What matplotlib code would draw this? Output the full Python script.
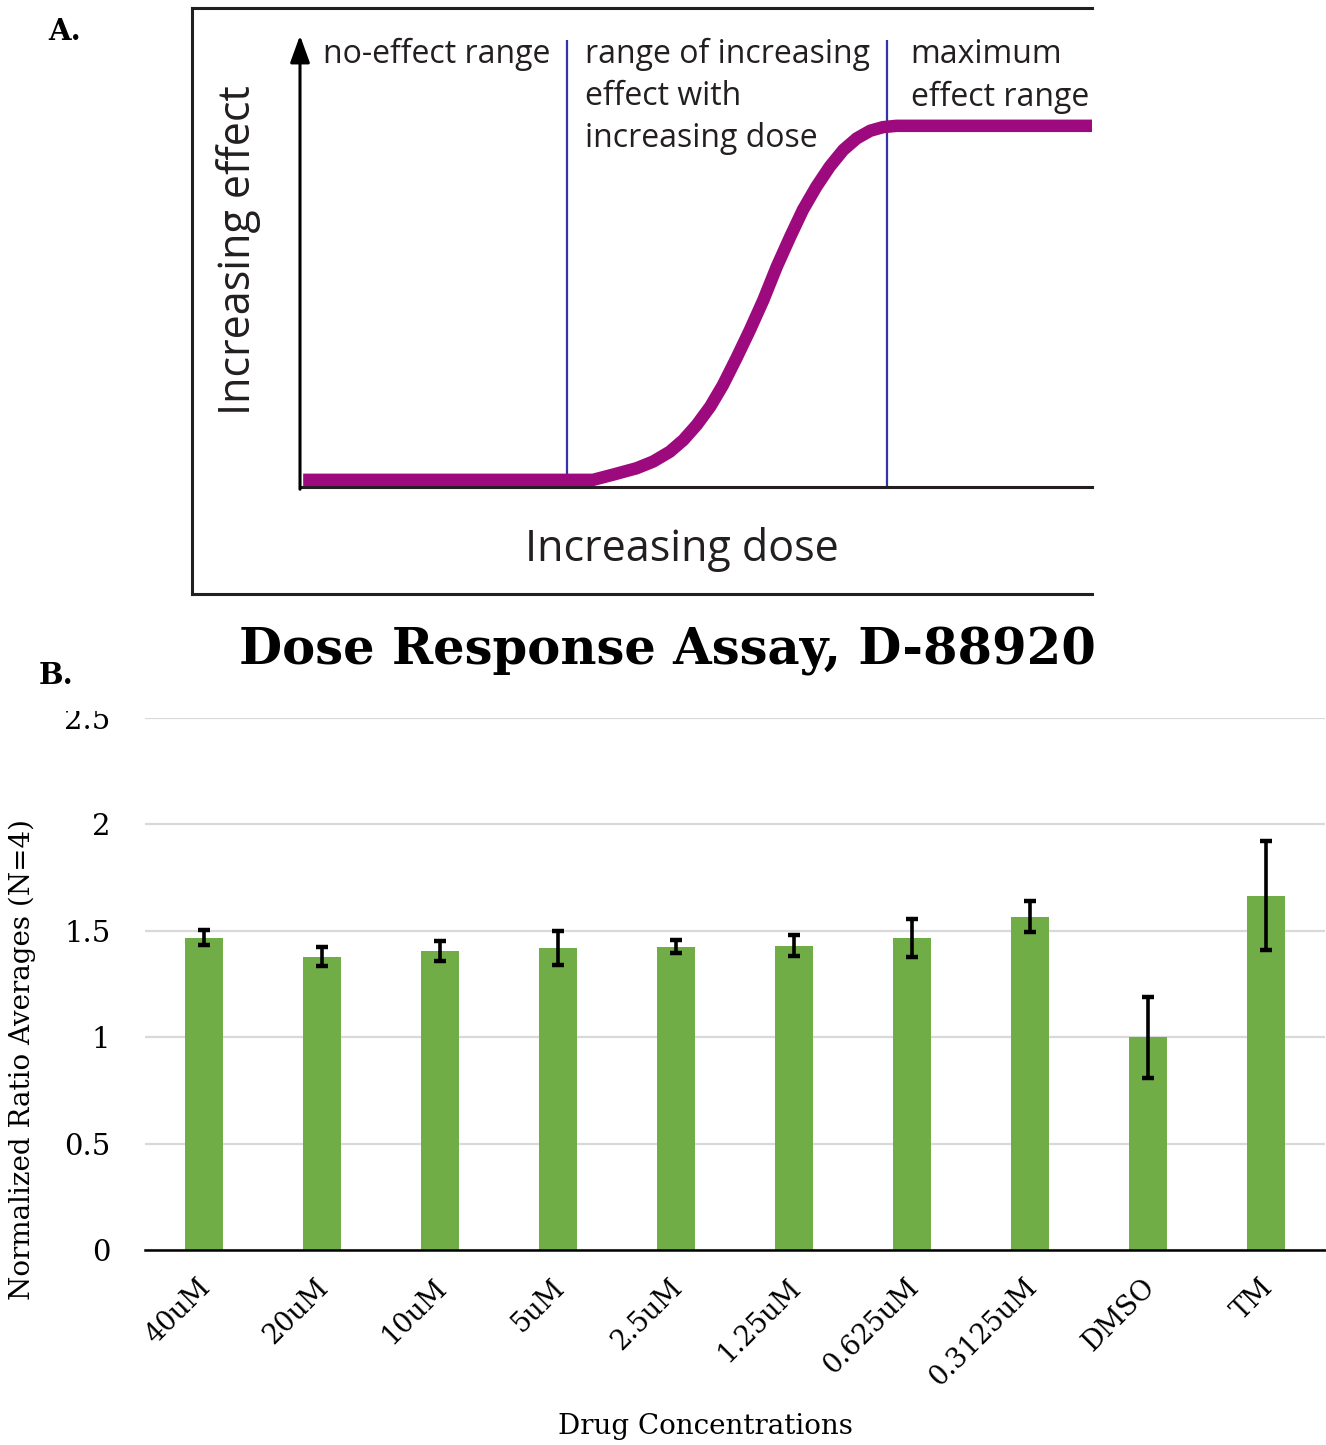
import matplotlib
matplotlib.use("Agg")
import matplotlib.pyplot as plt
from matplotlib.transforms import Bbox, TransformedBbox, ScaledTranslation

# ---------------- data ----------------
# Panel A: schematic dose-response curve (dose / effect in arbitrary 0-100 units)
curve_dose = [0.4, 37.0, 39.6, 42.5, 44.6, 46.7, 48.4, 50.1, 51.8, 53.4,
              55.1, 56.8, 58.5, 60.2, 61.9, 63.5, 65.2, 66.9, 68.6, 70.3,
              72.0, 73.6, 75.3, 78.3, 100.0]
curve_effect = [1.6, 1.6, 2.8, 4.2, 5.7, 7.9, 10.5, 13.9, 18.0, 22.8,
                28.8, 35.1, 41.8, 49.3, 56.0, 62.0, 67.2, 71.7, 75.4, 78.0,
                79.7, 80.5, 80.8, 80.8, 80.8]
range_bounds = [33.7, 74.1]
range_labels = ["no-effect range",
                "range of increasing\neffect with\nincreasing dose",
                "maximum\neffect range"]

# Panel B: dose response assay
concentrations = ["40uM", "20uM", "10uM", "5uM", "2.5uM", "1.25uM",
                  "0.625uM", "0.3125uM", "DMSO", "TM"]
ratio_means = [1.467, 1.378, 1.405, 1.42, 1.425, 1.43, 1.467, 1.566, 1.0, 1.665]
ratio_errors = [0.035, 0.045, 0.047, 0.08, 0.03, 0.05, 0.09, 0.072, 0.19, 0.255]
y_ticks = [0, 0.5, 1, 1.5, 2, 2.5]
y_tick_labels = ["0", "0.5", "1", "1.5", "2", "2.5"]

# ---------------- figure ----------------
W, H = 1326, 1445
fig = plt.figure(figsize=(W / 100, H / 100), dpi=100)


def px_axes(x0, y0, x1, y1):
    return fig.add_axes([x0 / W, 1 - y1 / H, (x1 - x0) / W, (y1 - y0) / H])


SANS = ["Open Sans", "DejaVu Sans"]
SERIF = ["DejaVu Serif"]
INK = "#231f20"
PURPLE = "#9c0a7d"
BLUE = "#3434a8"
GREEN = "#70ad47"

# ---- Panel A frame ----
ax_box = px_axes(192, 8, 1092, 594)
ax_box.set_xticks([])
ax_box.set_yticks([])
ax_box.patch.set_alpha(0)
for side in ["left", "top", "bottom"]:
    ax_box.spines[side].set_linewidth(2.2)
    ax_box.spines[side].set_color(INK)
ax_box.spines["right"].set_visible(False)

# ---- Panel A diagram ----
ax_a = px_axes(300, 40, 1092, 487)
ax_a.set_xlim(0, 100)
ax_a.set_ylim(0, 100)
ax_a.patch.set_alpha(0)
ax_a.set_xticks([])
ax_a.set_yticks([])
for side in ["left", "top", "right"]:
    ax_a.spines[side].set_visible(False)
ax_a.spines["bottom"].set_linewidth(2.2)
ax_a.spines["bottom"].set_color(INK)

ax_a.annotate("", xy=(0, 101.0), xytext=(0, -0.5),
              arrowprops=dict(arrowstyle="-|>,head_length=0.55,head_width=0.2",
                              mutation_scale=30, lw=2.2, color="black",
                              shrinkA=0, shrinkB=0),
              annotation_clip=False)
ax_a.vlines(range_bounds, 0, 101, color=BLUE, lw=1.6)
ax_a.plot(curve_dose, curve_effect, color=PURPLE, lw=9,
          solid_capstyle="butt", solid_joinstyle="round", clip_on=False, zorder=3)

label_x = [2.9, 36.0, 77.1]
for lx, txt in zip(label_x, range_labels):
    ax_a.text(lx, 100.4, txt, ha="left", va="top", fontsize=23,
              family=SANS, color=INK, linespacing=1.36)

ax_a.text(-7.8, 53, "Increasing effect", rotation=90, ha="center", va="center",
          fontsize=31, family=SANS, color=INK)
ax_a.text(48.2, -13.9, "Increasing dose", ha="center", va="center",
          fontsize=31, family=SANS, color=INK)

fig.text(65 / W, 1 - 32 / H, "A.", ha="center", va="center",
         fontsize=21, weight="bold", family=SERIF)

# ---- Panel B bar chart ----
ax_b = px_axes(145, 718, 1325, 1250)
x = list(range(len(concentrations)))
ax_b.bar(x, ratio_means, width=0.32, color=GREEN, zorder=2)
ax_b.errorbar(x, ratio_means, yerr=ratio_errors, fmt="none", ecolor="black",
              elinewidth=2.6, capsize=4.3, capthick=3.2, zorder=3)
ax_b.set_xlim(-0.5, 9.5)
ax_b.set_ylim(0, 2.5)
ax_b.set_yticks(y_ticks)
ax_b.set_yticklabels(y_tick_labels, family=SERIF, fontsize=21)
ax_b.yaxis.grid(True, color="#d9d9d9", lw=1.6, zorder=0)
ax_b.set_axisbelow(True)
ax_b.tick_params(axis="y", length=0, pad=25)
ax_b.tick_params(axis="x", length=0, pad=17)
ax_b.set_xticks(x)
ax_b.set_xticklabels(concentrations, rotation=45, ha="right",
                     rotation_mode="anchor", family=SERIF, fontsize=19.5)
shift = ScaledTranslation(-7 / 100, 0, fig.dpi_scale_trans)
for lbl in ax_b.get_xticklabels():
    lbl.set_transform(lbl.get_transform() + shift)
for side in ["left", "top", "right"]:
    ax_b.spines[side].set_visible(False)
ax_b.spines["bottom"].set_linewidth(1.8)
ax_b.spines["bottom"].set_color("black")

ax_b.set_ylabel("Normalized Ratio Averages (N=4)", family=SERIF, fontsize=20)
ax_b.yaxis.set_label_coords(22 / W, 1 - 1059 / H, transform=fig.transFigure)
ax_b.yaxis.label.set_va("center")
ax_b.set_xlabel("Drug Concentrations", family=SERIF, fontsize=20)
ax_b.xaxis.set_label_coords(705 / W, 1 - 1427 / H, transform=fig.transFigure)
ax_b.xaxis.label.set_va("center")

fig.text(667 / W, 1 - 651 / H, "Dose Response Assay, D-88920", ha="center",
         va="center", fontsize=35.7, weight="bold", family=SERIF)
fig.text(56 / W, 1 - 675 / H, "B.", ha="center", va="center",
         fontsize=21, weight="bold", family=SERIF)

# the top tick label is cut off by the panel edge
clip = TransformedBbox(Bbox.from_extents(0, 0, 1, 1 - 711 / H), fig.transFigure)
fig.canvas.draw()
for tick in ax_b.yaxis.get_major_ticks():
    tick.label1.set_clip_box(clip)
    tick.label1.set_clip_on(True)

fig.savefig("out.png", dpi=100)
